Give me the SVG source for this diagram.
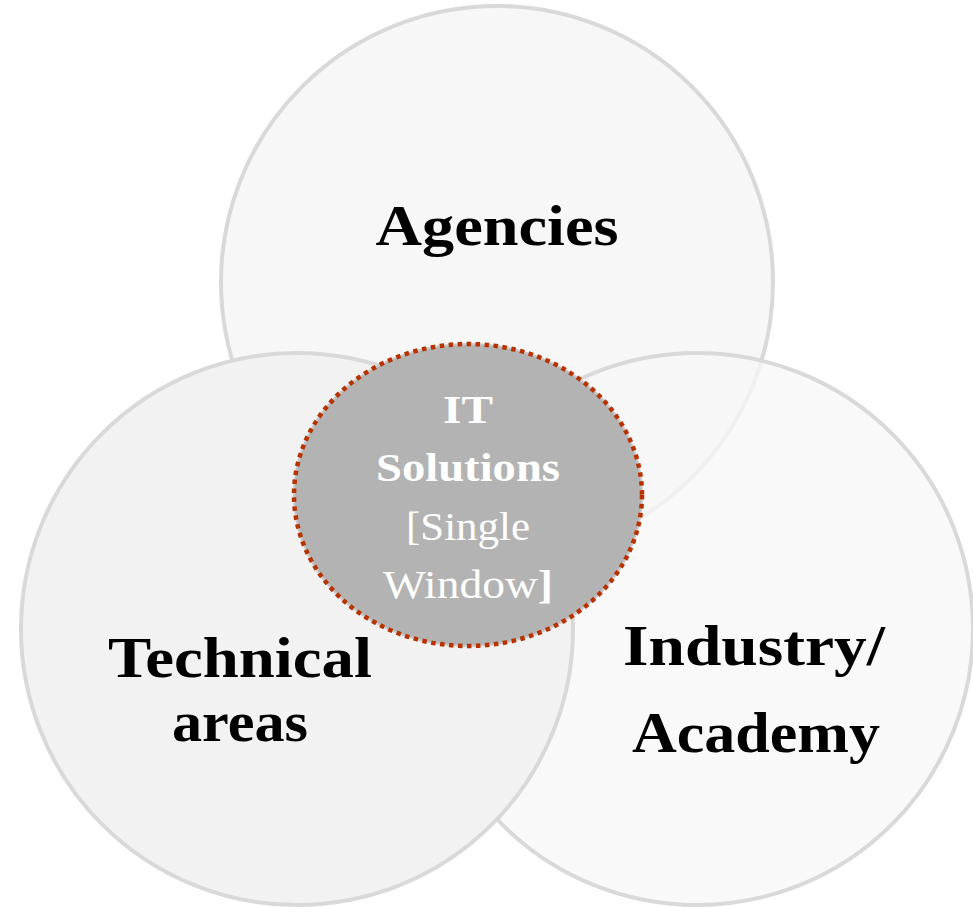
<svg xmlns="http://www.w3.org/2000/svg" width="973" height="907" viewBox="0 0 973 907">
<style>
.c{stroke:#d9d9d9;stroke-width:4}
.lbl{font-family:"Liberation Serif","DejaVu Serif",serif;font-weight:bold;fill:#000;text-anchor:middle;font-size:56px}
.in{font-family:"Liberation Serif","DejaVu Serif",serif;fill:#fff;text-anchor:middle;font-size:41px}
</style>
<rect width="973" height="907" fill="#fff"/>
<g id="agencies">
<circle class="c" cx="497" cy="282" r="276" fill="#f7f7f7"/>
<text class="lbl" x="497" y="245" textLength="243" lengthAdjust="spacingAndGlyphs">Agencies</text>
</g>
<g id="industry">
<circle class="c" cx="697" cy="629" r="276" fill="#f7f7f7" fill-opacity="0.75"/>
<text class="lbl" x="754" y="665" textLength="262" lengthAdjust="spacingAndGlyphs">Industry/</text>
<text class="lbl" x="756" y="752" textLength="248" lengthAdjust="spacingAndGlyphs">Academy</text>
</g>
<g id="technical">
<circle class="c" cx="297" cy="629" r="276" fill="#f2f2f2"/>
<text class="lbl" x="240" y="677" textLength="264" lengthAdjust="spacingAndGlyphs">Technical</text>
<text class="lbl" x="240" y="741" textLength="136" lengthAdjust="spacingAndGlyphs">areas</text>
</g>
<g id="it-solutions">
<ellipse cx="468" cy="495" rx="174" ry="151" fill="#b3b3b3" stroke="#c9c9c9" stroke-width="2"/>
<ellipse cx="468" cy="495" rx="174" ry="151" fill="none" stroke="#b83200" stroke-width="4.5" stroke-dasharray="4.5 4.5"/>
<text class="in" x="468" y="423" font-weight="bold" textLength="50" lengthAdjust="spacingAndGlyphs">IT</text>
<text class="in" x="468" y="481" font-weight="bold" textLength="184" lengthAdjust="spacingAndGlyphs">Solutions</text>
<text class="in" x="468" y="540" textLength="124" lengthAdjust="spacingAndGlyphs">[Single</text>
<text class="in" x="468" y="598" textLength="170" lengthAdjust="spacingAndGlyphs">Window<tspan font-weight="bold">]</tspan></text>
</g>
</svg>
